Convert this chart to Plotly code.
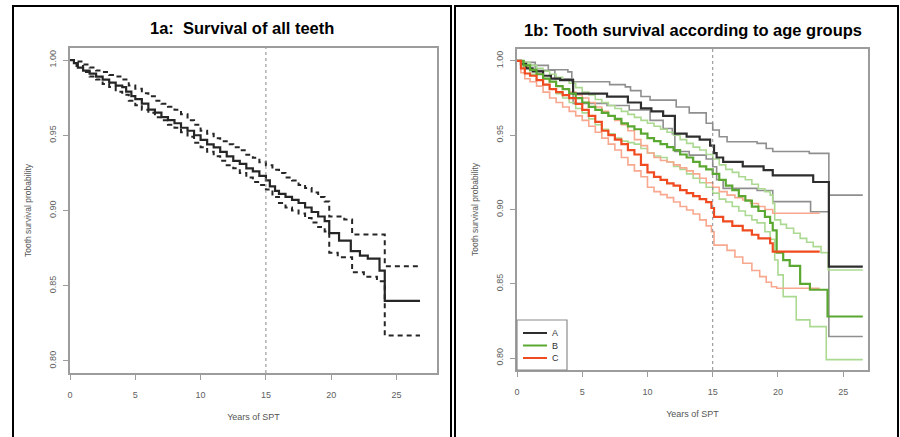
import plotly.graph_objects as go

# ---------------- data: panel 1a (all teeth) ----------------
t_all = [0, 0.3, 0.6, 1, 1.5, 2, 2.5, 3, 3.5, 4, 4.3, 4.7, 5, 5.5, 6, 6.5, 7, 7.5, 8, 8.5,
         9, 9.5, 10, 10.5, 11, 11.5, 12, 12.5, 13, 13.5, 14, 14.5, 15, 15.3, 15.7, 16, 16.5,
         17, 17.5, 18, 18.5, 19, 19.5, 19.85, 20.6, 21.5, 22.2, 22.8, 23.7, 24.1, 26.8]
s_all = [1.000, 0.998, 0.995, 0.993, 0.991, 0.989, 0.987, 0.985, 0.983, 0.982, 0.979, 0.976,
         0.974, 0.971, 0.967, 0.965, 0.962, 0.960, 0.958, 0.955, 0.953, 0.950, 0.947, 0.944,
         0.942, 0.939, 0.936, 0.933, 0.931, 0.928, 0.926, 0.923, 0.920, 0.916, 0.913, 0.911,
         0.909, 0.907, 0.905, 0.902, 0.899, 0.896, 0.893, 0.885, 0.880, 0.873, 0.870, 0.868,
         0.860, 0.840, 0.840]

t_all_up = [0, 0.5, 1, 1.5, 2, 2.5, 3, 3.5, 4, 4.5, 5, 5.5, 6, 6.5, 7, 7.5, 8, 8.5, 9, 9.5,
            10, 10.5, 11, 11.5, 12, 12.5, 13, 13.5, 14, 14.5, 15, 15.5, 16, 16.5, 17, 17.5,
            18, 18.5, 19, 19.5, 19.85, 21.0, 21.6, 24.1, 26.8]
s_all_up = [1.000, 0.999, 0.997, 0.995, 0.993, 0.992, 0.990, 0.989, 0.987, 0.983, 0.981,
            0.978, 0.976, 0.973, 0.971, 0.969, 0.967, 0.964, 0.960, 0.957, 0.953, 0.951,
            0.948, 0.946, 0.944, 0.942, 0.940, 0.937, 0.935, 0.932, 0.930, 0.927, 0.925,
            0.922, 0.920, 0.917, 0.915, 0.912, 0.909, 0.906, 0.896, 0.894, 0.884, 0.863, 0.863]

t_all_lo = [0, 0.5, 1, 1.5, 2, 2.5, 3, 3.5, 4, 4.5, 5, 5.5, 6, 6.5, 7, 7.5, 8, 8.5, 9, 9.5,
            10, 10.5, 11, 11.5, 12, 12.5, 13, 13.5, 14, 14.5, 15, 15.5, 16, 16.5, 17, 17.5,
            18, 18.5, 19, 19.5, 19.85, 20.5, 21.6, 22.5, 23.5, 24.1, 26.8]
s_all_lo = [1.000, 0.996, 0.992, 0.989, 0.987, 0.984, 0.982, 0.979, 0.977, 0.973, 0.970,
            0.967, 0.965, 0.962, 0.960, 0.957, 0.955, 0.952, 0.949, 0.945, 0.942, 0.939,
            0.936, 0.933, 0.930, 0.928, 0.925, 0.922, 0.919, 0.917, 0.914, 0.909, 0.905,
            0.902, 0.900, 0.898, 0.895, 0.892, 0.889, 0.886, 0.872, 0.869, 0.859, 0.856,
            0.853, 0.817, 0.817]

# ---------------- data: panel 1b (age groups) ----------------
t_A = [0, 0.3, 0.7, 1.2, 2.0, 2.6, 3.3, 4.3, 6.9, 8.5, 9.5, 10.3, 11.2, 12.1, 13.0, 14.0,
       14.8, 15.1, 15.3, 15.8, 17.3, 18.9, 19.6, 22.7, 23.9, 26.5]
s_A = [1.000, 0.998, 0.995, 0.993, 0.990, 0.988, 0.987, 0.978, 0.976, 0.972, 0.968, 0.966,
       0.963, 0.951, 0.949, 0.947, 0.943, 0.938, 0.935, 0.932, 0.929, 0.9265, 0.923, 0.9185,
       0.8616, 0.8616]
t_A_up = [0, 0.5, 1.4, 2.4, 3.9, 4.2, 7.1, 8.3, 8.7, 9.5, 10.2, 12.2, 13.2, 14.5, 15.0,
          15.5, 16.1, 18.4, 19.1, 19.6, 22.4, 23.9, 26.5]
s_A_up = [1.000, 0.999, 0.997, 0.994, 0.9926, 0.986, 0.984, 0.9825, 0.980, 0.976, 0.9736,
          0.969, 0.965, 0.958, 0.9535, 0.949, 0.9456, 0.9445, 0.941, 0.939, 0.9378, 0.9097,
          0.9097]
t_A_lo = [0, 0.5, 1.4, 2.9, 4.3, 6.9, 8.6, 10.2, 11.2, 11.9, 12.1, 13.2, 14.5, 15.0, 15.3,
          15.8, 18.4, 19.6, 22.5, 23.9, 26.5]
s_A_lo = [1.000, 0.997, 0.9937, 0.988, 0.9714, 0.970, 0.967, 0.960, 0.9545, 0.951, 0.939,
          0.9366, 0.934, 0.9288, 0.920, 0.9142, 0.9128, 0.9053, 0.8985, 0.8145, 0.8145]

t_B = [0, 0.5, 1, 1.5, 2, 2.5, 3, 3.5, 4, 4.5, 5, 5.5, 6, 6.5, 7, 7.5, 8, 8.5, 9, 9.5, 10,
       10.5, 11, 11.5, 12, 12.5, 13, 13.5, 14, 14.5, 15, 15.5, 16, 16.5, 17, 17.5, 18, 18.5,
       19, 19.4, 19.6, 19.9, 20.4, 20.9, 21.7, 22.45, 23.8, 26.5]
s_B = [1.000, 0.997, 0.994, 0.991, 0.988, 0.986, 0.983, 0.981, 0.978, 0.975, 0.972, 0.969,
       0.967, 0.965, 0.963, 0.961, 0.958, 0.956, 0.954, 0.951, 0.948, 0.946, 0.944, 0.942,
       0.940, 0.937, 0.935, 0.932, 0.929, 0.927, 0.924, 0.920, 0.916, 0.913, 0.909, 0.906,
       0.902, 0.899, 0.895, 0.891, 0.886, 0.871, 0.866, 0.862, 0.850, 0.846, 0.828, 0.828]
t_B_up = [0, 0.5, 1, 1.5, 2, 2.5, 3, 3.5, 4, 4.5, 5, 5.5, 6, 6.5, 7, 7.5, 8, 8.5, 9, 9.5,
          10, 10.5, 11, 11.5, 12, 12.5, 13, 13.5, 14, 14.5, 15, 15.5, 16, 16.5, 17, 17.5,
          18, 18.5, 19, 19.4, 19.6, 19.75, 20.2, 20.65, 21.2, 21.7, 22.2, 22.7, 23.3, 23.85,
          26.5]
s_B_up = [1.000, 0.999, 0.997, 0.995, 0.993, 0.991, 0.989, 0.987, 0.985, 0.982, 0.979,
          0.977, 0.974, 0.972, 0.970, 0.968, 0.966, 0.964, 0.962, 0.960, 0.958, 0.956,
          0.954, 0.952, 0.950, 0.947, 0.9445, 0.942, 0.940, 0.937, 0.934, 0.930, 0.927,
          0.925, 0.922, 0.920, 0.917, 0.914, 0.912, 0.9097, 0.904, 0.893, 0.890, 0.8874,
          0.884, 0.8806, 0.878, 0.875, 0.871, 0.8593, 0.8593]
t_B_lo = [0, 0.5, 1, 1.5, 2, 2.5, 3, 3.5, 4, 4.5, 5, 5.5, 6, 6.5, 7, 7.5, 8, 8.5, 9, 9.5,
          10, 10.5, 11, 11.5, 12, 12.5, 13, 13.5, 14, 14.5, 15, 15.5, 16, 16.5, 17, 17.5,
          18, 18.4, 19, 19.4, 19.75, 20.0, 20.4, 21.4, 22.45, 23.7, 26.5]
s_B_lo = [1.000, 0.995, 0.991, 0.987, 0.984, 0.981, 0.978, 0.975, 0.972, 0.968, 0.965,
          0.961, 0.957, 0.954, 0.951, 0.948, 0.946, 0.945, 0.944, 0.941, 0.938, 0.936,
          0.935, 0.932, 0.929, 0.927, 0.924, 0.921, 0.918, 0.915, 0.911, 0.907, 0.905,
          0.902, 0.899, 0.896, 0.893, 0.891, 0.885, 0.880, 0.866, 0.856, 0.8414, 0.8257,
          0.8212, 0.799, 0.799]

t_C = [0, 0.3, 0.6, 1, 1.5, 2, 2.5, 3, 3.5, 4, 4.5, 5, 5.5, 6, 6.5, 7, 7.5, 8, 8.5, 9, 9.5,
       10, 10.5, 11, 11.5, 12, 12.5, 13, 13.5, 14, 14.5, 14.9, 15.1, 15.8, 16.5, 17.3, 18,
       18.5, 19.4, 19.6, 23.2]
s_C = [1.000, 0.995, 0.9915, 0.990, 0.987, 0.984, 0.981, 0.979, 0.977, 0.975, 0.971, 0.967,
       0.963, 0.959, 0.953, 0.950, 0.947, 0.944, 0.940, 0.937, 0.930, 0.925, 0.922, 0.920,
       0.9176, 0.916, 0.913, 0.911, 0.909, 0.907, 0.905, 0.901, 0.895, 0.892, 0.889, 0.886,
       0.883, 0.8806, 0.8773, 0.8716, 0.8716]
t_C_up = [0, 0.3, 0.6, 1, 1.5, 2, 2.5, 3, 3.5, 4, 4.5, 5, 5.5, 6, 6.5, 7, 7.5, 8, 8.5, 9,
          9.5, 10, 10.5, 11, 11.5, 12, 12.5, 13, 13.5, 14, 14.5, 15, 15.5, 16.1, 16.7, 17.3,
          17.9, 18.5, 19, 19.6, 23.2]
s_C_up = [1.000, 0.998, 0.996, 0.994, 0.991, 0.988, 0.986, 0.983, 0.981, 0.979, 0.977,
          0.975, 0.972, 0.969, 0.966, 0.963, 0.960, 0.957, 0.953, 0.947, 0.943, 0.938,
          0.935, 0.933, 0.932, 0.930, 0.928, 0.926, 0.924, 0.921, 0.918, 0.915, 0.912,
          0.9097, 0.908, 0.9064, 0.904, 0.902, 0.900, 0.8975, 0.8975]
t_C_lo = [0, 0.3, 0.6, 1, 1.5, 2, 2.5, 3, 3.5, 4, 4.5, 5, 5.5, 6, 6.5, 7, 7.5, 8, 8.5, 9,
          9.5, 10, 10.5, 11, 11.5, 12, 12.5, 13, 13.5, 14, 14.5, 14.9, 15.1, 16.1, 16.7,
          17.3, 18, 18.6, 19.1, 19.5, 19.9, 23.2]
s_C_lo = [1.000, 0.992, 0.988, 0.986, 0.983, 0.979, 0.975, 0.972, 0.969, 0.966, 0.963,
          0.960, 0.956, 0.952, 0.948, 0.944, 0.940, 0.935, 0.930, 0.926, 0.922, 0.915,
          0.912, 0.910, 0.908, 0.905, 0.902, 0.8997, 0.897, 0.893, 0.889, 0.885, 0.876,
          0.8725, 0.868, 0.8638, 0.859, 0.8548, 0.851, 0.848, 0.847, 0.847]

x_ticks = [0, 5, 10, 15, 20, 25]
y_ticks = [0.80, 0.85, 0.90, 0.95, 1.00]
y_tick_labels = ["0.80", "0.85", "0.90", "0.95", "1.00"]
group_names = ["A", "B", "C"]
marker_year = 15

FONT = "Liberation Sans, Arial, sans-serif"
fig = go.Figure()

# ---- panel 1a ----
fig.add_trace(go.Scatter(x=t_all_up, y=s_all_up, mode="lines", line_shape="hv",
                         line=dict(color="#262626", width=2, dash="5px,4px"),
                         showlegend=False, xaxis="x", yaxis="y"))
fig.add_trace(go.Scatter(x=t_all_lo, y=s_all_lo, mode="lines", line_shape="hv",
                         line=dict(color="#262626", width=2, dash="5px,4px"),
                         showlegend=False, xaxis="x", yaxis="y"))
fig.add_trace(go.Scatter(x=t_all, y=s_all, mode="lines", line_shape="hv",
                         line=dict(color="#262626", width=2.2),
                         showlegend=False, xaxis="x", yaxis="y"))

# ---- panel 1b ----
main_colors = ["#2e2e2e", "#5aa832", "#f04a20"]
ci_colors = ["#8f8f8f", "#acd992", "#f7a88e"]
groups = [
    (group_names[0], t_A, s_A, t_A_up, s_A_up, t_A_lo, s_A_lo, main_colors[0], ci_colors[0]),
    (group_names[1], t_B, s_B, t_B_up, s_B_up, t_B_lo, s_B_lo, main_colors[1], ci_colors[1]),
    (group_names[2], t_C, s_C, t_C_up, s_C_up, t_C_lo, s_C_lo, main_colors[2], ci_colors[2]),
]
for name, t, s, tu, su, tl, sl, cmain, cci in groups:
    for tt, ss in ((tu, su), (tl, sl)):
        fig.add_trace(go.Scatter(x=tt, y=ss, mode="lines", line_shape="hv",
                                 line=dict(color=cci, width=1.6),
                                 showlegend=False, xaxis="x2", yaxis="y2"))
for name, t, s, tu, su, tl, sl, cmain, cci in groups:
    fig.add_trace(go.Scatter(x=t, y=s, mode="lines", line_shape="hv", name=name,
                             line=dict(color=cmain, width=2.2),
                             showlegend=False, xaxis="x2", yaxis="y2"))

W, H = 900, 437


def px_x(p):
    return p / W


def px_y(p):
    return 1 - p / H


axis_common = dict(showline=True, mirror=True, linecolor="#9c9c9c", linewidth=1.6,
                   ticks="outside", ticklen=5, tickwidth=1, tickcolor="#9c9c9c",
                   tickfont=dict(size=9, color="#606060", family=FONT),
                   showgrid=False, zeroline=False, automargin=False)

fig.update_layout(
    width=W, height=H,
    margin=dict(l=0, r=0, t=0, b=0, pad=0),
    paper_bgcolor="white", plot_bgcolor="white",
    font=dict(family=FONT),
    showlegend=False,
    xaxis=dict(domain=[px_x(70), px_x(437)], range=[0, 28.1], tickvals=x_ticks,
               anchor="y", ticklabelstandoff=7,
               title=dict(text="Years of SPT", font=dict(size=9, color="#555555"), standoff=15),
               **axis_common),
    yaxis=dict(domain=[px_y(373), px_y(48)], range=[0.792, 1.008], tickvals=y_ticks,
               ticktext=y_tick_labels, tickangle=-90, anchor="x", ticklabelstandoff=4,
               title=dict(text="Tooth survival probability",
                          font=dict(size=8.5, color="#555555"), standoff=15),
               **axis_common),
    xaxis2=dict(domain=[px_x(517), px_x(868)], range=[0, 26.9], tickvals=x_ticks,
                anchor="y2", ticklabelstandoff=7,
                title=dict(text="Years of SPT", font=dict(size=9, color="#555555"), standoff=15),
                **axis_common),
    yaxis2=dict(domain=[px_y(370), px_y(49)], range=[0.792, 1.008], tickvals=y_ticks,
                ticktext=y_tick_labels, tickangle=-90, anchor="x2", ticklabelstandoff=4,
                title=dict(text="Tooth survival probability",
                           font=dict(size=8.5, color="#555555"), standoff=15),
                **axis_common),
)

# dotted reference lines at 15 years
for xr, yr in (("x", "y domain"), ("x2", "y2 domain")):
    fig.add_shape(type="line", xref=xr, yref=yr, x0=marker_year, x1=marker_year, y0=0, y1=1,
                  line=dict(color="#8a8a8a", width=1, dash="dot"))

# legend box for panel 1b (drawn inside the plot, bottom-left)
lg_w, lg_h = 50 / 351, 50 / 321
fig.add_shape(type="rect", xref="x2 domain", yref="y2 domain", x0=0, x1=lg_w, y0=0, y1=lg_h,
              line=dict(color="#8c8c8c", width=1.2), fillcolor="white", layer="above")
for i, (name, col) in enumerate(zip(group_names, main_colors)):
    yy = (37 - 12.5 * i) / 321
    fig.add_shape(type="line", xref="x2 domain", yref="y2 domain",
                  x0=6 / 351, x1=30 / 351, y0=yy, y1=yy,
                  line=dict(color=col, width=2), layer="above")
    fig.add_annotation(xref="x2 domain", yref="y2 domain", x=38 / 351, y=yy, text=name,
                       showarrow=False, xanchor="center", yanchor="middle",
                       font=dict(size=9, color="#333333", family=FONT))

# outer panel frames
for x0, x1 in ((13, 451), (455, 898)):
    fig.add_shape(type="rect", xref="paper", yref="paper",
                  x0=px_x(x0), x1=px_x(x1), y0=-0.05, y1=px_y(6),
                  line=dict(color="black", width=2), fillcolor="rgba(0,0,0,0)", layer="above")

# panel titles
fig.add_annotation(x=px_x(242), y=px_y(28), xref="paper", yref="paper",
                   xanchor="center", yanchor="middle",
                   text="<b>1a:\u00a0 Survival of all teeth</b>", showarrow=False,
                   font=dict(size=16.5, color="black", family=FONT))
fig.add_annotation(x=px_x(693), y=px_y(30), xref="paper", yref="paper",
                   xanchor="center", yanchor="middle",
                   text="<b>1b: Tooth survival according to age groups</b>", showarrow=False,
                   font=dict(size=16.5, color="black", family=FONT))

fig.write_html("out.html", config={"displayModeBar": False},
               post_script="document.body.style.margin='0';document.body.style.overflow='hidden';")
